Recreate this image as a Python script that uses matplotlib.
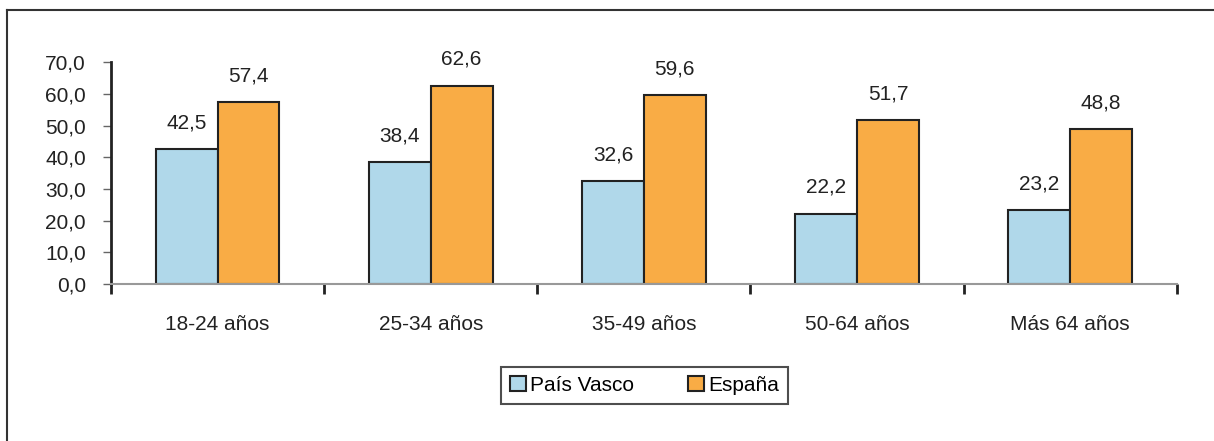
import matplotlib.pyplot as plt
import numpy as np
from matplotlib.lines import Line2D

# datos
grupos = ['18-24 años', '25-34 años', '35-49 años', '50-64 años', 'Más 64 años']
pais_vasco = [42.5, 38.4, 32.6, 22.2, 23.2]
espana = [57.4, 62.6, 59.6, 51.7, 48.8]
series = ['País Vasco', 'España']
colores = ['#B0D8EA', '#F9AC45']

plt.rcParams['font.family'] = ['Liberation Sans', 'DejaVu Sans']
fs = 15

fig = plt.figure(figsize=(12.14, 4.41), dpi=100)
ax = fig.add_axes([0.0914, 0.356, 0.878, 0.503])

x = np.arange(len(grupos))
w = 0.29
b1 = ax.bar(x - w / 2, pais_vasco, w, color=colores[0], edgecolor='#222222', linewidth=1.5)
b2 = ax.bar(x + w / 2, espana, w, color=colores[1], edgecolor='#222222', linewidth=1.5)

for barras, vals in [(b1, pais_vasco), (b2, espana)]:
    for r, v in zip(barras, vals):
        ax.annotate(f"{v:.1f}".replace('.', ','), (r.get_x() + r.get_width() / 2, v),
                    xytext=(0, 12), textcoords='offset points',
                    ha='center', va='bottom', fontsize=fs, color='#222222')

ax.set_xlim(-0.5, len(grupos) - 0.5)
ax.set_ylim(0, 70)
ax.set_yticks(np.arange(0, 71, 10))
ax.set_yticklabels([f"{t:.1f}".replace('.', ',') for t in np.arange(0, 71, 10)],
                   fontsize=fs, color='#222222')

# ticks del eje x entre grupos, etiquetas en el centro
ax.set_xticks(np.arange(-0.5, len(grupos), 1))
ax.set_xticklabels([])
ax.set_xticks(x, minor=True)
ax.set_xticklabels(grupos, minor=True, fontsize=fs, color='#222222')
ax.tick_params(axis='x', which='major', direction='out', length=7, width=2, color='#222222')
ax.tick_params(axis='x', which='minor', length=0, pad=22)
ax.tick_params(axis='y', direction='out', length=6, width=1, color='#666666', pad=12)

for s in ['top', 'right']:
    ax.spines[s].set_visible(False)
ax.spines['left'].set_color('#222222')
ax.spines['left'].set_linewidth(2)
ax.spines['bottom'].set_color('#999999')
ax.spines['bottom'].set_linewidth(1.5)

handles = [plt.Rectangle((0, 0), 1, 1, facecolor=c, edgecolor='#222222', linewidth=1.5)
           for c in colores]
leg = fig.legend(handles, series, loc='center', bbox_to_anchor=(0.531, 0.126), ncol=2,
                 fontsize=fs, frameon=True, fancybox=False, edgecolor='#222222',
                 handlelength=0.75, handleheight=0.75, handletextpad=0.2, columnspacing=2.6,
                 borderpad=0.45)
leg.get_frame().set_linewidth(1.5)

# marco exterior
fig.add_artist(Line2D([7 / 1214, 7 / 1214], [0, 1 - 10 / 441], color='#333333', lw=1.5))
fig.add_artist(Line2D([7 / 1214, 1], [1 - 10 / 441, 1 - 10 / 441], color='#333333', lw=1.5))

fig.savefig('out.png', dpi=100)
